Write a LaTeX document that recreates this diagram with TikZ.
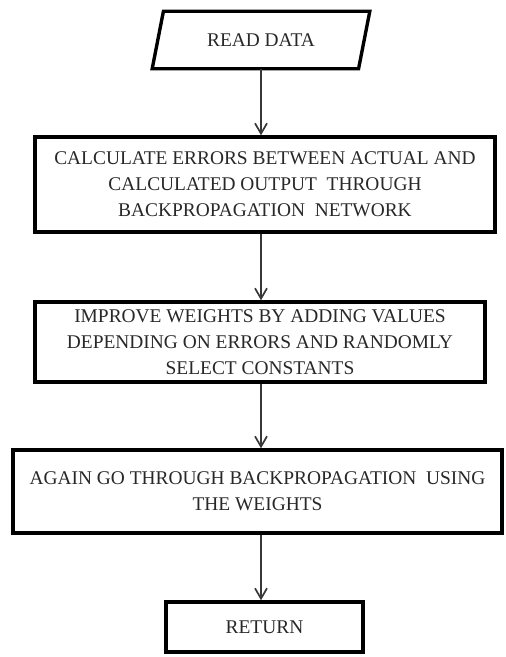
\documentclass[tikz,border=0pt]{standalone}
\usepackage{fontspec}
\setmainfont{Liberation Serif}
\usetikzlibrary{arrows.meta}

\begin{document}
\begin{tikzpicture}[x=0.25mm,y=-0.25mm,
  procbox/.style={draw=boxcolor,line width=2.4pt,fill=fillcolor,text=textcolor,
    align=center,inner sep=0pt,font=\fontsize{13.8}{18.5}\selectfont},
  flow/.style={line width=1.2pt,draw=pathcolor,
    -{Straight Barb[length=2.6mm,width=3mm,line width=1.2pt]}}]
\definecolor{fillcolor}{RGB}{255,255,255}
\definecolor{boxcolor}{RGB}{0,0,0}
\definecolor{textcolor}{RGB}{40,40,40}
\definecolor{pathcolor}{RGB}{55,55,55}
\useasboundingbox (0,0) rectangle (505,657);
\node [procbox,draw=none,fill=none,minimum width=50.75mm,minimum height=13.5mm] (read) at (261,40) {READ DATA};
\draw [line width=2.4pt,boxcolor] ([xshift=-1.4mm]read.south west) -- ([xshift=-1.4mm]read.south east)
  -- ([xshift=1.4mm]read.north east) -- ([xshift=1.4mm]read.north west) -- cycle;
\node [procbox,minimum width=115mm,minimum height=23.75mm] (calc) at (265,184.5)
  {CALCULATE ERRORS BETWEEN ACTUAL AND\\ CALCULATED OUTPUT\ \ THROUGH\\ BACKPROPAGATION\ \ NETWORK};
\node [procbox,minimum width=112.5mm,minimum height=20mm] (improve) at (260,342)
  {IMPROVE WEIGHTS BY ADDING VALUES\\ DEPENDING ON ERRORS AND RANDOMLY\\ SELECT CONSTANTS};
\node [procbox,minimum width=122.25mm,minimum height=20.75mm] (again) at (257.5,491.5)
  {AGAIN GO THROUGH BACKPROPAGATION\ \ USING\\ THE WEIGHTS};
\node [procbox,minimum width=49.25mm,minimum height=12.5mm] (ret) at (264.5,627) {RETURN};
\draw [flow] (read.south) -- (read.south |- calc.north);
\draw [flow] (calc.south -| read.south) -- (improve.north -| read.south);
\draw [flow] (improve.south -| read.south) -- (again.north -| read.south);
\draw [flow] (again.south -| read.south) -- (ret.north -| read.south);
\end{tikzpicture}
\end{document}
